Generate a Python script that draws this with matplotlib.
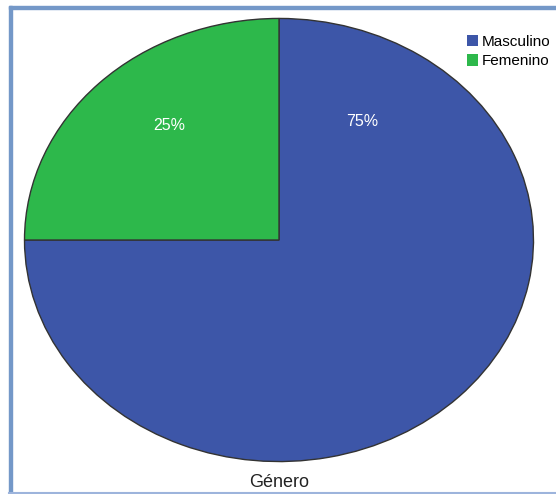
import matplotlib.pyplot as plt
from matplotlib.patches import Rectangle
from matplotlib.lines import Line2D

labels = ['Masculino', 'Femenino']
values = [75, 25]
colors = ['#3d56a8', '#2db84b']
title = 'Género'

W, H = 556, 494
fig = plt.figure(figsize=(W / 100, H / 100), dpi=100)
fig.patch.set_facecolor('white')

# light blue frame (left, top, bottom)
frame_col = '#7498c8'
fig.patches.append(Rectangle((9 / W, 0), 3 / W, 1 - 6 / H, transform=fig.transFigure,
                             color=frame_col, zorder=0))
fig.patches.append(Rectangle((9 / W, 1 - 9 / H), 1, 3 / H, transform=fig.transFigure,
                             color=frame_col, zorder=0))
fig.lines.append(Line2D([9 / W, 1], [1.5 / H, 1.5 / H], transform=fig.transFigure,
                        color='#9db4dc', lw=1.5))

ax = fig.add_axes([24 / W, 32 / H, 510 / W, 444 / H])
wedges, _ = ax.pie(values, colors=colors, startangle=90, counterclock=False,
                   wedgeprops=dict(edgecolor='#333333', linewidth=1.0))
ax.set_aspect('auto')
ax.set_xlim(-1.002, 1.002)
ax.set_ylim(-1.002, 1.002)
ax.axis('off')

# percentage labels
pct_pos = [(0.325, 0.535), (-0.43, 0.515)]
for v, (x, y) in zip(values, pct_pos):
    ax.text(x, y, f'{v}%', color='white', fontsize=11.5, ha='center', va='center',
            family='Liberation Sans')

fig.text(279 / W, 1 - 482 / H, title, ha='center', va='center', fontsize=13,
         family='Liberation Sans', color='#222222')

fig.legend(wedges, labels, loc='upper left', bbox_to_anchor=(467 / W, 1 - 35 / H),
           frameon=False, prop=dict(family='Liberation Sans', size=11),
           handlelength=0.75, handleheight=0.75, handletextpad=0.2, labelspacing=0.35,
           borderpad=0, borderaxespad=0)
for h in fig.legends[0].legend_handles:
    h.set_edgecolor('none')

fig.savefig('out.png', dpi=100)
